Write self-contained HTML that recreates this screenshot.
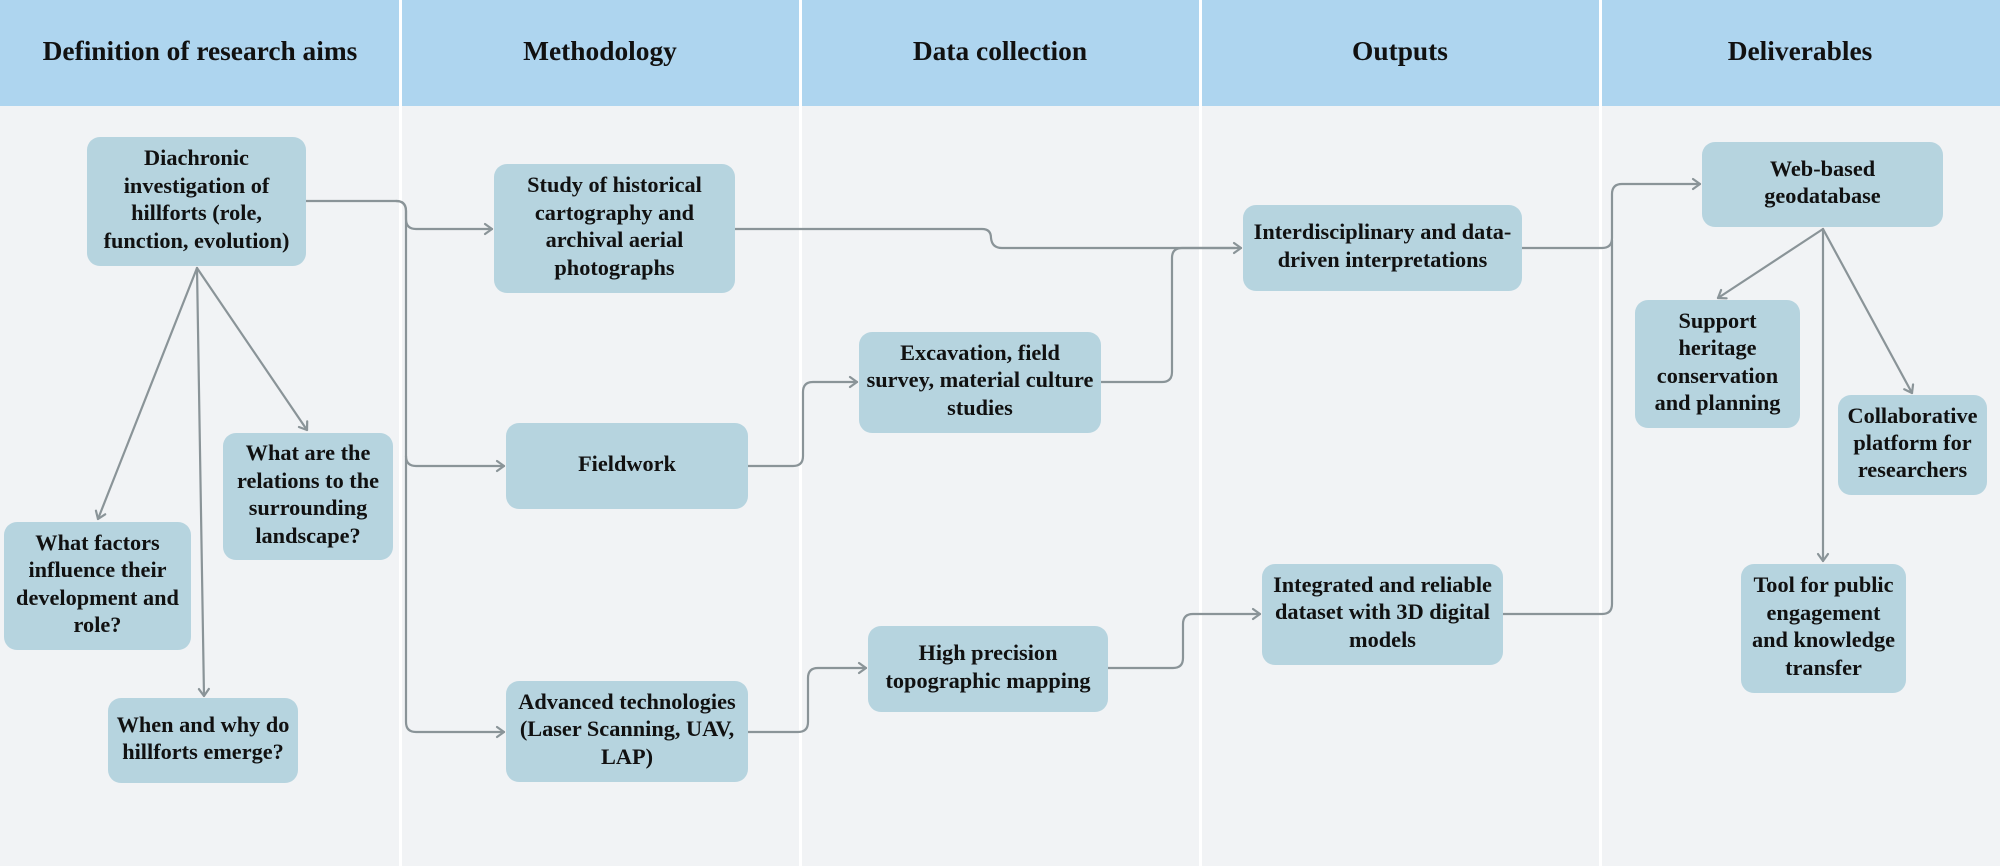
<!DOCTYPE html>
<html>
<head>
<meta charset="utf-8">
<style>
  html,body{margin:0;padding:0;background:#F1F3F5;}
  svg{display:block;}
  .h{font-family:"Liberation Serif","Times New Roman",serif;font-weight:bold;font-size:27.4px;fill:#111;text-anchor:middle;}
  .t{font-family:"Liberation Serif","Times New Roman",serif;font-weight:bold;font-size:22.3px;fill:#111;text-anchor:middle;}
  .b{fill:#B6D4DF;}
  .c{fill:none;stroke:#8A9498;stroke-width:2.2;stroke-linejoin:round;stroke-linecap:round;}
</style>
</head>
<body>
<svg width="2000" height="866" viewBox="0 0 2000 866" xmlns="http://www.w3.org/2000/svg">
  <defs>
    <marker id="ar" markerUnits="userSpaceOnUse" markerWidth="14" markerHeight="14" refX="0" refY="0" viewBox="-10 -7 12 14" orient="auto">
      <path d="M-7,-5 L0,0 L-7,5" fill="none" stroke="#8A9498" stroke-width="2.2" stroke-linecap="round" stroke-linejoin="round"/>
    </marker>
  </defs>

  <!-- backgrounds -->
  <rect x="0" y="0" width="2000" height="866" fill="#F1F3F5"/>
  <rect x="0" y="0" width="2000" height="106" fill="#AED5EF"/>
  <!-- column dividers -->
  <rect x="399" y="0" width="3" height="866" fill="#FFFFFF"/>
  <rect x="799" y="0" width="3" height="866" fill="#FFFFFF"/>
  <rect x="1199" y="0" width="3" height="866" fill="#FFFFFF"/>
  <rect x="1599" y="0" width="3" height="866" fill="#FFFFFF"/>

  <!-- headers -->
  <text class="h" x="200" y="60">Definition of research aims</text>
  <text class="h" x="600" y="60">Methodology</text>
  <text class="h" x="1000" y="60">Data collection</text>
  <text class="h" x="1400" y="60">Outputs</text>
  <text class="h" x="1800" y="60">Deliverables</text>

  <!-- connectors -->
  <path class="c" d="M306,201 H396 Q406,201 406,211 V219 Q406,229 416,229 H492" marker-end="url(#ar)"/>
  <path class="c" d="M396,201 Q406,201 406,211 V456 Q406,466 416,466 H504" marker-end="url(#ar)"/>
  <path class="c" d="M406,456 V722 Q406,732 416,732 H504" marker-end="url(#ar)"/>

  <path class="c" d="M735,229 H982 Q991,229 991,238 Q992,248 1002,248 H1241" marker-end="url(#ar)"/>
  <path class="c" d="M748,466 H793 Q803,466 803,456 V392 Q803,382 813,382 H857" marker-end="url(#ar)"/>
  <path class="c" d="M1101,382 H1162 Q1172,382 1172,372 V258 Q1172,248 1182,248 H1235"/>
  <path class="c" d="M748,732 H798 Q808,732 808,722 V678 Q808,668 818,668 H866" marker-end="url(#ar)"/>
  <path class="c" d="M1108,668 H1173 Q1183,668 1183,658 V624 Q1183,614 1193,614 H1260" marker-end="url(#ar)"/>
  <path class="c" d="M1522,248 H1602 Q1612,248 1612,238 V194 Q1612,184 1622,184 H1700" marker-end="url(#ar)"/>
  <path class="c" d="M1503,614 H1602 Q1612,614 1612,604 V240"/>

  <!-- fans -->
  <path class="c" d="M1823,229 L1718,298" marker-end="url(#ar)"/>
  <path class="c" d="M1823,229 L1912,393" marker-end="url(#ar)"/>
  <path class="c" d="M1823,229 L1823,561" marker-end="url(#ar)"/>
  <path class="c" d="M197,268 L98,519" marker-end="url(#ar)"/>
  <path class="c" d="M197,268 L307,430" marker-end="url(#ar)"/>
  <path class="c" d="M197,268 L204,696" marker-end="url(#ar)"/>

  <!-- boxes -->
  <rect class="b" x="87" y="137" width="219" height="129" rx="13"/>
  <text class="t" x="196.5" y="165">Diachronic</text>
  <text class="t" x="196.5" y="193">investigation of</text>
  <text class="t" x="196.5" y="220">hillforts (role,</text>
  <text class="t" x="196.5" y="248">function, evolution)</text>

  <rect class="b" x="223" y="433" width="170" height="127" rx="13"/>
  <text class="t" x="308" y="460">What are the</text>
  <text class="t" x="308" y="488">relations to the</text>
  <text class="t" x="308" y="515">surrounding</text>
  <text class="t" x="308" y="543">landscape?</text>

  <rect class="b" x="4" y="522" width="187" height="128" rx="13"/>
  <text class="t" x="97.5" y="550">What factors</text>
  <text class="t" x="97.5" y="577">influence their</text>
  <text class="t" x="97.5" y="605">development and</text>
  <text class="t" x="97.5" y="632">role?</text>

  <rect class="b" x="108" y="698" width="190" height="85" rx="13"/>
  <text class="t" x="203" y="732">When and why do</text>
  <text class="t" x="203" y="759">hillforts emerge?</text>

  <rect class="b" x="494" y="164" width="241" height="129" rx="13"/>
  <text class="t" x="614.5" y="192">Study of historical</text>
  <text class="t" x="614.5" y="220">cartography and</text>
  <text class="t" x="614.5" y="247">archival aerial</text>
  <text class="t" x="614.5" y="275">photographs</text>

  <rect class="b" x="506" y="423" width="242" height="86" rx="13"/>
  <text class="t" x="627" y="471">Fieldwork</text>

  <rect class="b" x="506" y="681" width="242" height="101" rx="13"/>
  <text class="t" x="627" y="709">Advanced technologies</text>
  <text class="t" x="627" y="736">(Laser Scanning, UAV,</text>
  <text class="t" x="627" y="764">LAP)</text>

  <rect class="b" x="859" y="332" width="242" height="101" rx="13"/>
  <text class="t" x="980" y="360">Excavation, field</text>
  <text class="t" x="980" y="387">survey, material culture</text>
  <text class="t" x="980" y="415">studies</text>

  <rect class="b" x="868" y="626" width="240" height="86" rx="13"/>
  <text class="t" x="988" y="660">High precision</text>
  <text class="t" x="988" y="688">topographic mapping</text>

  <rect class="b" x="1243" y="205" width="279" height="86" rx="13"/>
  <text class="t" x="1382.5" y="239">Interdisciplinary and data-</text>
  <text class="t" x="1382.5" y="267">driven interpretations</text>

  <rect class="b" x="1262" y="564" width="241" height="101" rx="13"/>
  <text class="t" x="1382.5" y="592">Integrated and reliable</text>
  <text class="t" x="1382.5" y="619">dataset with 3D digital</text>
  <text class="t" x="1382.5" y="647">models</text>

  <rect class="b" x="1702" y="142" width="241" height="85" rx="13"/>
  <text class="t" x="1822.5" y="176">Web-based</text>
  <text class="t" x="1822.5" y="203">geodatabase</text>

  <rect class="b" x="1635" y="300" width="165" height="128" rx="13"/>
  <text class="t" x="1717.5" y="328">Support</text>
  <text class="t" x="1717.5" y="355">heritage</text>
  <text class="t" x="1717.5" y="383">conservation</text>
  <text class="t" x="1717.5" y="410">and planning</text>

  <rect class="b" x="1838" y="395" width="149" height="100" rx="13"/>
  <text class="t" x="1912.5" y="423">Collaborative</text>
  <text class="t" x="1912.5" y="450">platform for</text>
  <text class="t" x="1912.5" y="477">researchers</text>

  <rect class="b" x="1741" y="564" width="165" height="129" rx="13"/>
  <text class="t" x="1823.5" y="592">Tool for public</text>
  <text class="t" x="1823.5" y="620">engagement</text>
  <text class="t" x="1823.5" y="647">and knowledge</text>
  <text class="t" x="1823.5" y="675">transfer</text>
</svg>
</body>
</html>
